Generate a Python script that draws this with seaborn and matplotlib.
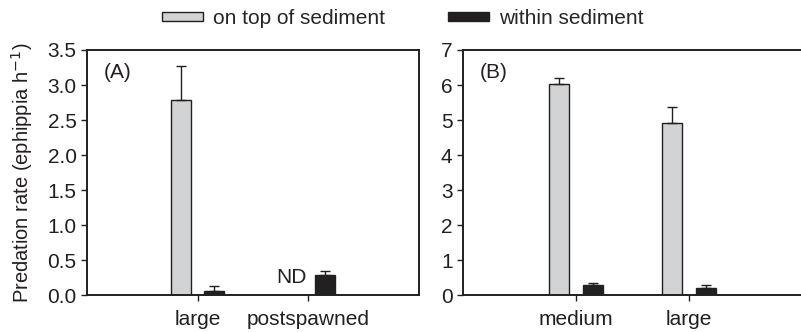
import numpy as np
import pandas as pd
import seaborn as sns
import matplotlib.pyplot as plt
from matplotlib.patches import Patch

sns.set_style("ticks")
plt.rcParams["font.family"] = ["Liberation Sans", "DejaVu Sans"]
plt.rcParams["font.size"] = 15

# panel A
cats_a = ["large", "postspawned"]
top_a = [2.78, np.nan]
top_a_err = [0.49, np.nan]
within_a = [0.06, 0.28]
within_a_err = [0.07, 0.06]

# panel B
cats_b = ["medium", "large"]
top_b = [6.03, 4.92]
top_b_err = [0.17, 0.45]
within_b = [0.29, 0.19]
within_b_err = [0.05, 0.10]

series = ["on top of sediment", "within sediment"]
colors = {"on top of sediment": "#d1d3d4", "within sediment": "#231f20"}


def make_df(cats, top, within, top_err, within_err):
    return pd.DataFrame({
        "cat": cats * 2,
        "where": [series[0]] * len(cats) + [series[1]] * len(cats),
        "rate": list(top) + list(within),
        "err": list(top_err) + list(within_err),
    })


df_a = make_df(cats_a, top_a, within_a, top_a_err, within_a_err)
df_b = make_df(cats_b, top_b, within_b, top_b_err, within_b_err)

fig = plt.figure(figsize=(8.01, 3.32), dpi=100)
ax_a = fig.add_axes([0.1086, 0.1114, 0.4145, 0.738])
ax_b = fig.add_axes([0.578, 0.1114, 0.4232, 0.738])


def draw(ax, df, cats, ylim, ticks, fmt):
    sns.barplot(data=df, x="cat", y="rate", hue="where", order=cats, hue_order=series,
                palette=colors, width=0.6, gap=0.4, edgecolor="#231f20", linewidth=1.0,
                errorbar=None, legend=False, ax=ax)
    # upper error bars, matched to the drawn bar patches
    for bar in ax.patches:
        xc = bar.get_x() + bar.get_width() / 2
        j = int(round(xc))
        s = series[0] if xc < j else series[1]
        row = df[(df["cat"] == cats[j]) & (df["where"] == s)].iloc[0]
        if np.isnan(row["rate"]):
            continue
        ax.errorbar(xc, row["rate"], yerr=[[0], [row["err"]]], fmt="none", ecolor="#231f20",
                    elinewidth=1.0, capsize=3.5, capthick=1.0)
    ax.set_xlim(-1, 2)
    ax.set_ylim(*ylim)
    ax.set_yticks(ticks)
    ax.set_yticklabels([fmt.format(t) for t in ticks])
    ax.set_xlabel("")
    ax.set_ylabel("")
    for sp in ax.spines.values():
        sp.set_visible(True)
        sp.set_linewidth(1.4)
        sp.set_color("#231f20")
    ax.tick_params(axis="both", direction="out", length=4.5, width=1.0, color="#231f20",
                   labelsize=15, labelcolor="#231f20")
    ax.tick_params(axis="y", pad=3)
    ax.tick_params(axis="x", pad=6)


draw(ax_a, df_a, cats_a, (0, 3.5), np.arange(0, 3.51, 0.5), "{:.1f}")
draw(ax_b, df_b, cats_b, (0, 7), np.arange(0, 8, 1), "{:.0f}")
ax_b.spines["right"].set_visible(False)

# ND label where the missing "on top" bar would be (left dodge slot of postspawned)
ax_a.text(cats_a.index("postspawned") - 0.15, 0.12, "ND", ha="center", va="bottom",
          fontsize=15, color="#231f20")

ax_a.text(0.05, 0.945, "(A)", transform=ax_a.transAxes, ha="left", va="top", fontsize=15,
          color="#231f20")
ax_b.text(0.05, 0.945, "(B)", transform=ax_b.transAxes, ha="left", va="top", fontsize=15,
          color="#231f20")

ax_a.set_ylabel("Predation rate (ephippia h$^{-1}$)", fontsize=14.5, color="#231f20",
                labelpad=9)

handles = [Patch(facecolor=colors[s], edgecolor="#231f20", linewidth=1.0) for s in series]
fig.legend(handles, series, loc="center", bbox_to_anchor=(0.503, 0.945), ncol=2,
           frameon=False, handlelength=1.95, handleheight=0.3, columnspacing=3.0,
           handletextpad=0.5, fontsize=15, borderpad=0.2)

fig.savefig("out.png", dpi=100)
